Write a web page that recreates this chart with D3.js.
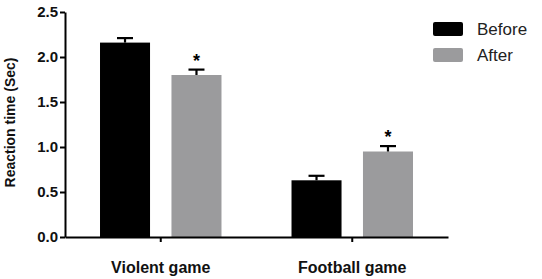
<!DOCTYPE html>
<html>
<head>
<meta charset="utf-8">
<script src="https://cdn.jsdelivr.net/npm/d3@7"></script>
<style>
  body { margin: 0; background: #fff; }
  svg { display: block; font-family: "Liberation Sans", Arial, sans-serif; }
</style>
</head>
<body>
<div id="chart"></div>
<script>
const groups = ["Violent game", "Football game"];
const series = ["Before", "After"];
const beforeValues = [2.16, 0.63];
const afterValues = [1.80, 0.95];
const beforeErrors = [0.05, 0.05];
const afterErrors = [0.06, 0.06];
const significant = [[false, true], [false, true]];
const yTicks = [0, 0.5, 1.0, 1.5, 2.0, 2.5];

const width = 542, height = 279;
const margin = { top: 12, right: 94, bottom: 42, left: 65 };
const innerW = width - margin.left - margin.right;
const innerH = height - margin.top - margin.bottom;

const color = d3.scaleOrdinal().domain(series).range(["#000000", "#9b9b9d"]);

const data = groups.map((g, i) => ({
  group: g,
  values: [
    { key: "Before", value: beforeValues[i], err: beforeErrors[i], star: significant[i][0] },
    { key: "After", value: afterValues[i], err: afterErrors[i], star: significant[i][1] }
  ]
}));

const svg = d3.select('#chart').append('svg')
  .attr('width', width)
  .attr('height', height);

const g = svg.append('g')
  .attr('transform', `translate(${margin.left},${margin.top})`);

const x0 = d3.scaleBand().domain(groups).range([0, innerW]).padding(0);
const x1 = d3.scaleBand().domain(series).range([0, x0.bandwidth()])
  .paddingInner(0.3).paddingOuter(0.49);
const y = d3.scaleLinear().domain([0, 2.5]).range([innerH, 0]);

const groupG = g.selectAll('.grp')
  .data(data)
  .enter().append('g')
  .attr('class', 'grp')
  .attr('transform', d => `translate(${x0(d.group)},0)`);

groupG.selectAll('rect')
  .data(d => d.values)
  .enter().append('rect')
  .attr('x', d => x1(d.key))
  .attr('y', d => y(d.value))
  .attr('width', x1.bandwidth())
  .attr('height', d => y(0) - y(d.value))
  .attr('fill', d => color(d.key));

// error bars (upper half only)
const err = groupG.selectAll('.err')
  .data(d => d.values)
  .enter().append('g')
  .attr('class', 'err')
  .attr('stroke', '#000')
  .attr('stroke-width', 2.2);

err.append('line')
  .attr('x1', d => x1(d.key) + x1.bandwidth() / 2)
  .attr('x2', d => x1(d.key) + x1.bandwidth() / 2)
  .attr('y1', d => y(d.value))
  .attr('y2', d => y(d.value + d.err));

err.append('line')
  .attr('x1', d => x1(d.key) + x1.bandwidth() / 2 - 8)
  .attr('x2', d => x1(d.key) + x1.bandwidth() / 2 + 8)
  .attr('y1', d => y(d.value + d.err))
  .attr('y2', d => y(d.value + d.err));

groupG.selectAll('.star')
  .data(d => d.values.filter(v => v.star))
  .enter().append('text')
  .attr('class', 'star')
  .attr('x', d => x1(d.key) + x1.bandwidth() / 2)
  .attr('y', d => y(d.value + d.err) - 3)
  .attr('text-anchor', 'middle')
  .style('font-size', '18px')
  .style('font-weight', 'bold')
  .text('*');

// axes
const yAxis = g.append('g')
  .attr('class', 'y-axis')
  .call(d3.axisLeft(y).tickValues(yTicks).tickFormat(d3.format('.1f')).tickSize(5).tickSizeOuter(0));

const xAxis = g.append('g')
  .attr('class', 'x-axis')
  .attr('transform', `translate(0,${innerH})`)
  .call(d3.axisBottom(x0).tickSize(5).tickSizeOuter(0));

svg.selectAll('.domain, .tick line')
  .attr('stroke', '#000')
  .attr('stroke-width', 2);

yAxis.selectAll('text')
  .attr('x', -7)
  .style('font-size', '15px')
  .style('font-weight', 'bold')
  .attr('fill', '#111');

xAxis.selectAll('text')
  .attr('y', 25)
  .style('font-size', '16px')
  .style('font-weight', 'bold')
  .attr('fill', '#111');

g.append('text')
  .attr('transform', `translate(${-50},${innerH / 2 - 2}) rotate(-90)`)
  .attr('text-anchor', 'middle')
  .style('font-size', '14px')
  .style('font-weight', 'bold')
  .attr('fill', '#111')
  .text('Reaction time (Sec)');

// legend
const legend = svg.append('g')
  .attr('class', 'legend')
  .attr('transform', 'translate(433,22)');

legend.selectAll('rect')
  .data(series)
  .enter().append('rect')
  .attr('y', (d, i) => i * 26)
  .attr('width', 30)
  .attr('height', 14)
  .attr('rx', 2)
  .attr('fill', d => color(d));

legend.selectAll('text')
  .data(series)
  .enter().append('text')
  .attr('x', 44)
  .attr('y', (d, i) => i * 26 + 13)
  .style('font-size', '17px')
  .attr('fill', '#222')
  .text(d => d);
</script>
</body>
</html>
